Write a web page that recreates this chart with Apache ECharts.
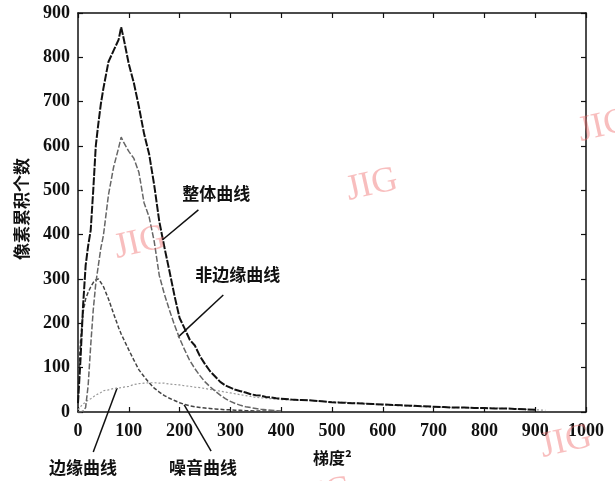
<!DOCTYPE html>
<html>
<head>
<meta charset="utf-8">
<script src="https://cdn.jsdelivr.net/npm/echarts@6/dist/echarts.min.js"></script>
<style>
  html, body { margin: 0; padding: 0; background: #fff; }
  #chart { width: 615px; height: 481px; }
</style>
</head>
<body>
<div id="chart"></div>
<script>
// gradient^2 sample positions shared by all curves
const xs = [0, 5, 10, 15, 20, 25, 30, 35, 40, 45, 50, 60, 70, 80, 85, 90, 100, 110, 120, 130,
  140, 150, 160, 170, 180, 190, 200, 210, 220, 230, 240, 250, 260, 270, 280, 290, 300,
  310, 320, 330, 340, 350, 360, 370, 380, 390, 400, 420, 440, 460, 480, 500, 520, 540,
  560, 580, 600, 620, 640, 660, 680, 700, 720, 740, 760, 780, 800, 820, 840, 860, 880, 900, 920];

const overall = [20, 120, 240, 330, 375, 410, 500, 600, 650, 695, 730, 790, 815, 840, 868, 842, 785, 742, 688, 628,
  582, 512, 430, 372, 318, 262, 212, 188, 163, 150, 126, 108, 92, 80, 68, 60, 55,
  50, 47, 44, 40, 38, 37, 34, 33, 31, 30, 28, 27, 26, 24, 22, 21, 20,
  19, 18, 17, 16, 15, 14, 13, 12, 11, 10, 10, 9, 9, 8, 8, 7, 6, 5, null];

const nonEdge = [0, 0, 2, 10, 60, 150, 230, 290, 330, 370, 398, 490, 552, 596, 620, 608, 588, 572, 540, 472,
  440, 385, 308, 266, 230, 196, 166, 140, 116, 98, 82, 68, 57, 47, 38, 30, 24,
  19, 15, 12, 10, 8, 6, 5, 4, 3, 2, null, null, null, null, null, null, null,
  null, null, null, null, null, null, null, null, null, null, null, null, null, null, null, null, null, null, null];

const edge = [60, 160, 225, 255, 270, 282, 292, 298, 300, 292, 283, 255, 222, 190, 176, 164, 140, 117, 95, 80,
  66, 54, 45, 37, 31, 26, 21, 17, 14, 12, 10, 9, 8, 7, 6, 5, 5,
  4, 4, 3, 3, 2, 2, 2, 1, 1, 1, null, null, null, null, null, null, null,
  null, null, null, null, null, null, null, null, null, null, null, null, null, null, null, null, null, null, null];

const noise = [5, 12, 18, 22, 27, 30, 34, 38, 41, 44, 48, 50, 53, 54, 55, 56, 58, 62, 64, 65,
  66, 66, 65, 65, 63, 62, 61, 59, 58, 56, 55, 53, 51, 49, 47, 45, 43,
  41, 39, 37, 35, 33, 32, 31, 30, 29, 28, 27, 27, 26, 24, 23, 22, 21,
  20, 18, 16, 15, 14, 13, 12, 11, 11, 10, 10, 9, 9, 9, 8, 7, 6, 5, 4];

// annotation labels: text, text anchor [x, y], leader line from / to (data units)
const notes = [
  { text: "整体曲线", at: [205, 492], align: "left", from: [237, 456], to: [166, 388] },
  { text: "非边缘曲线", at: [231, 309], align: "left", from: [286, 264], to: [197, 169] },
  { text: "边缘曲线", at: [10, -126], align: "center", from: [77, 54], to: [30, -90] },
  { text: "噪音曲线", at: [246, -126], align: "center", from: [209, 16], to: [262, -88] },
];

const pair = ys => xs.map((x, i) => [x, ys[i]]);

const chart = echarts.init(document.getElementById("chart"));

const numFont = { fontFamily: "Liberation Serif", fontWeight: "bold", fontSize: 18, color: "#111",
  formatter: v => String(v) };
const cjk = { fontFamily: "Noto Sans CJK SC", fontWeight: "bold", fontSize: 17, fill: "#111" };

const baseAxis = {
  type: "value",
  axisLine: { show: true, onZero: false, lineStyle: { color: "#111", width: 1.5 } },
  axisTick: { show: true, inside: true, length: 5, lineStyle: { color: "#111", width: 1.2 } },
  splitLine: { show: false },
};

chart.setOption({
  backgroundColor: "#fff",
  animation: false,
  grid: { left: 78, right: 29, top: 13, bottom: 69 },
  xAxis: [
    { ...baseAxis, min: 0, max: 1000, interval: 100, position: "bottom",
      axisLabel: { ...numFont, margin: 10 } },
    { ...baseAxis, min: 0, max: 1000, interval: 100, position: "top", axisLabel: { show: false } },
  ],
  yAxis: [
    { ...baseAxis, min: 0, max: 900, interval: 100, position: "left",
      axisLabel: { ...numFont, margin: 8 } },
    { ...baseAxis, min: 0, max: 900, interval: 100, position: "right", axisLabel: { show: false } },
  ],
  series: [
    { name: "噪音曲线", type: "line", data: pair(noise), showSymbol: false,
      lineStyle: { color: "#9a9a9a", width: 1.2, type: [2, 2] } },
    { name: "边缘曲线", type: "line", data: pair(edge), showSymbol: false,
      lineStyle: { color: "#444", width: 1.5, type: [4, 2] } },
    { name: "非边缘曲线", type: "line", data: pair(nonEdge), showSymbol: false,
      lineStyle: { color: "#666", width: 1.5, type: [6, 2] } },
    { name: "整体曲线", type: "line", data: pair(overall), showSymbol: false,
      lineStyle: { color: "#111", width: 2, type: [8, 1.5] } },
  ],
});

// leader lines and labels placed through the axes' own scale
const px = p => chart.convertToPixel({ xAxisIndex: 0, yAxisIndex: 0 }, p);
const graphics = [];
notes.forEach(n => {
  const a = px(n.from), b = px(n.to), t = px(n.at);
  graphics.push({ type: "line", shape: { x1: a[0], y1: a[1], x2: b[0], y2: b[1] },
    style: { stroke: "#111", lineWidth: 1.5 } });
  graphics.push({ type: "text", x: t[0], y: t[1],
    style: { ...cjk, text: n.text, align: n.align, verticalAlign: "middle" } });
});
graphics.push({ type: "text", x: 22, y: 209, rotation: Math.PI / 2,
  style: { ...cjk, text: "像素累积个数", align: "center", verticalAlign: "middle" } });
graphics.push({ type: "text", x: 313, y: 458,
  style: { ...cjk, fontSize: 16, text: "梯度²", align: "left", verticalAlign: "middle" } });

// scanned watermark
[[372, 185], [140, 243], [604, 126], [566, 442], [326, 494]].forEach(([x, y]) => {
  graphics.push({ type: "text", x, y, rotation: 0.22, z: 100,
    style: { text: "JIG", fontFamily: "Liberation Serif", fontSize: 36,
      fill: "rgba(240,110,110,0.45)", align: "center", verticalAlign: "middle" } });
});
chart.setOption({ graphic: graphics });

window.addEventListener("resize", () => chart.resize());
</script>
</body>
</html>
